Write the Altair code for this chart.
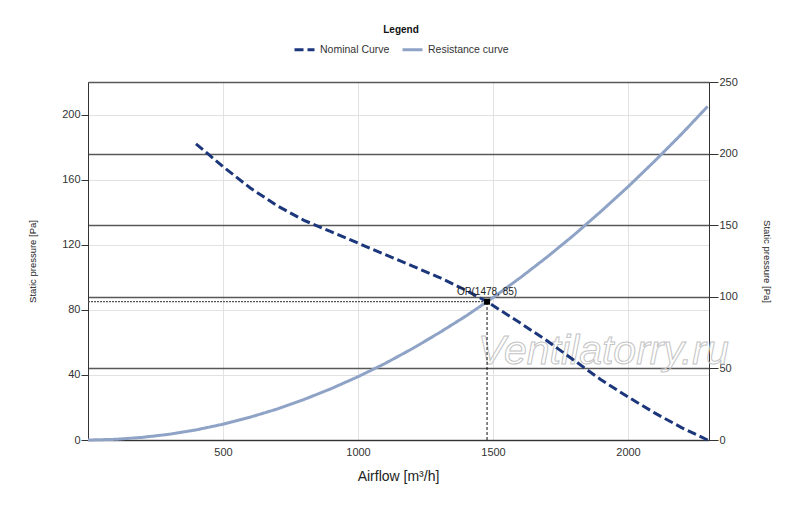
import altair as alt
import pandas as pd

# ---- data ----
nominal_flow = [400, 450, 500, 600, 700, 800, 900, 1000, 1100, 1200, 1300, 1400,
                1478, 1600, 1700, 1800, 1900, 2000, 2100, 2200, 2295]
nominal_pressure = [182, 175, 168, 155, 144, 135, 128, 121, 114, 107, 100, 92,
                    85, 72, 61, 49, 37, 26.5, 16.5, 7.5, 0]

resist_flow = [0, 100, 200, 300, 400, 500, 600, 700, 800, 900, 1000, 1100, 1200,
               1300, 1400, 1500, 1600, 1700, 1800, 1900, 2000, 2100, 2200, 2295]
resist_pressure = [0, 0.4, 1.6, 3.5, 6.2, 9.7, 14, 19, 24.9, 31.5, 38.9, 47, 56,
                   65.8, 76.2, 87.5, 99.6, 112.4, 126, 140.5, 155.6, 171.6, 188.3, 205]

series_names = ["Nominal Curve", "Resistance curve"]
op_flow = [1478]
op_pressure = [85]
op_label = ["OP(1478, 85)"]

x_ticks = [500, 1000, 1500, 2000]
left_ticks = [0, 40, 80, 120, 160, 200]
right_ticks = [0, 50, 100, 150, 200, 250]
watermark = "Ventilatorry.ru"

FONT = "Liberation Sans"

lines = pd.concat([
    pd.DataFrame({"flow": nominal_flow, "p": nominal_pressure, "series": series_names[0]}),
    pd.DataFrame({"flow": resist_flow, "p": resist_pressure, "series": series_names[1]}),
])
op = pd.DataFrame({"flow": op_flow, "p": op_pressure, "label": op_label,
                   "flow0": [0] * len(op_flow), "p0": [0] * len(op_flow)})
right_df = pd.DataFrame({"r": right_ticks})

xscale = alt.Scale(domain=[0, 2300], nice=False, zero=False)
yscale = alt.Scale(domain=[0, 220], nice=False)

legend = alt.Legend(title="Legend", orient="none", legendX=205, legendY=-57,
                    direction="horizontal", columns=2)

x_axis = alt.Axis(values=x_ticks, format="d", grid=True, gridColor="#e2e2e2",
                  ticks=False, labelPadding=6, labelFontSize=11,
                  labelColor="#333", domainColor="#333",
                  title="Airflow [m³/h]", titleFontSize=14,
                  titleFontWeight="normal", titleColor="#222",
                  titleX=310, titleY=36, titleBaseline="middle")

left_axis = alt.Axis(values=left_ticks, format="d", grid=True,
                     gridColor="#e2e2e2", tickSize=7, tickColor="#333",
                     labelPadding=1, labelFontSize=11, labelColor="#333",
                     domainColor="#333", title="Static pressure [Pa]",
                     titleFontSize=9.5, titleFontWeight="normal",
                     titleColor="#222", titleX=-56, titleY=179,
                     titleAlign="center", titleBaseline="middle",
                     titleAngle=270)

right_axis = alt.Axis(orient="right", values=right_ticks, format="d",
                      grid=True, gridColor="#585858", gridWidth=1.3,
                      tickSize=9, tickColor="#333", labelPadding=1,
                      labelFontSize=11, labelColor="#333", domainColor="#333",
                      title="Static pressure [Pa]", titleFontSize=9.5,
                      titleFontWeight="normal", titleColor="#222",
                      titleX=57, titleY=179, titleAlign="center",
                      titleBaseline="middle", titleAngle=90)


def X(field):
    return alt.X(field, type="quantitative", scale=xscale, axis=x_axis)


def Y(field):
    return alt.Y(field, type="quantitative", scale=yscale, axis=left_axis)


curves = alt.Chart(lines).mark_line(strokeWidth=3).encode(
    x=X("flow"),
    y=Y("p"),
    color=alt.Color("series:N", scale=alt.Scale(domain=series_names,
                                                range=["#1b367a", "#8fa3c6"]),
                    legend=legend),
    strokeDash=alt.StrokeDash("series:N", scale=alt.Scale(domain=series_names,
                                                          range=[[9, 4], [1, 0]]),
                              legend=legend),
    order="flow:Q",
)

wm = alt.Chart(op).mark_text(text=watermark, font=FONT, fontSize=41,
                             fontStyle="italic", fillOpacity=0,
                             stroke="#c4c4c4", strokeWidth=1,
                             align="center", baseline="middle").encode(
    x=alt.X(datum=1909, type="quantitative", scale=xscale, axis=x_axis),
    y=alt.Y(datum=54, type="quantitative", scale=yscale, axis=left_axis),
)

hline = alt.Chart(op).mark_rule(color="#555", strokeDash=[2, 1],
                                strokeWidth=1.2).encode(
    x=X("flow0"), x2="flow:Q", y=Y("p"),
)
vline = alt.Chart(op).mark_rule(color="#111", strokeDash=[3, 2],
                                strokeWidth=1).encode(
    x=X("flow"), y=Y("p0"), y2="p:Q",
)
marker = alt.Chart(op).mark_point(shape="square", size=36, filled=True,
                                  color="#000", opacity=1).encode(
    x=X("flow"), y=Y("p"),
)
label = alt.Chart(op).mark_text(font=FONT, fontSize=10, color="#222",
                                baseline="middle", dy=-10).encode(
    x=X("flow"), y=Y("p"), text="label:N",
)

left_group = alt.layer(wm, curves, hline, vline, marker, label)

right_layer = alt.Chart(right_df).mark_point(opacity=0).encode(
    x=alt.value(0),
    y=alt.Y("r:Q", scale=alt.Scale(domain=[0, 250], nice=False), axis=right_axis),
)

chart = alt.layer(left_group, right_layer).resolve_scale(
    y="independent"
).properties(
    width=621, height=358,
    autosize=alt.AutoSizeParams(type="none"),
    padding={"left": 80, "top": 74, "right": 70, "bottom": 60},
).configure_view(
    stroke="#333", strokeWidth=1
).configure(font=FONT).configure_legend(
    padding=0, titleFontSize=10, titleFontWeight="bold", titleColor="#111",
    titleAnchor="middle", titleAlign="center", titlePadding=3,
    labelFontSize=10.5, labelColor="#333", labelOffset=4,
    symbolType="stroke", symbolSize=400, symbolStrokeWidth=3,
    columnPadding=6,
)

chart.save("out.html", embed_options={"renderer": "svg", "actions": False})
